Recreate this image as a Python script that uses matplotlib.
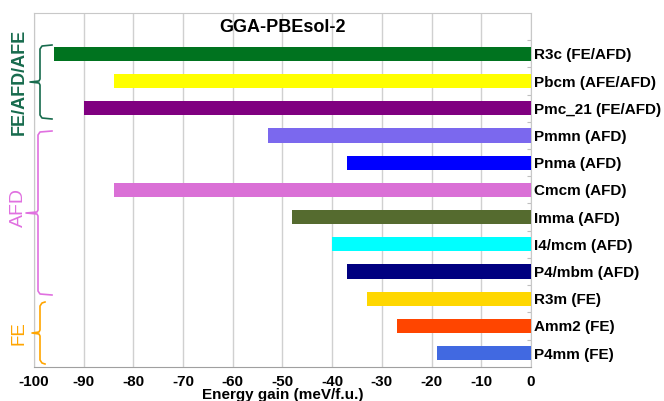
import matplotlib
matplotlib.use("Agg")
import matplotlib.pyplot as plt

plt.rcParams['font.family'] = ['Liberation Sans', 'DejaVu Sans']

structures = ["R3c (FE/AFD)", "Pbcm (AFE/AFD)", "Pmc_21 (FE/AFD)", "Pmmn (AFD)",
              "Pnma (AFD)", "Cmcm (AFD)", "Imma (AFD)", "I4/mcm (AFD)",
              "P4/mbm (AFD)", "R3m (FE)", "Amm2 (FE)", "P4mm (FE)"]
energy = [-96, -84, -90, -53, -37, -84, -48, -40, -37, -33, -27, -19]
colors = ["#00731f", "#ffff00", "#800080", "#7b68ee", "#0000ff", "#da70d6",
          "#556b2f", "#00ffff", "#000080", "#ffd700", "#ff4500", "#4169e1"]
xticks = list(range(-100, 1, 10))
title = "GGA-PBEsol-2"
xlabel = "Energy gain (meV/f.u.)"
groups = ["FE/AFD/AFE", "AFD", "FE"]
group_colors = ["#176b4d", "#e070e0", "#ffa500"]

fig = plt.figure(figsize=(6.64, 4.01), dpi=100)
ax = fig.add_axes([0.0512, 0.0855, 0.7485, 0.8821])

pos = list(range(len(structures)))
ax.barh(pos, energy, height=0.52, color=colors, zorder=3)
ax.set_xlim(-100, 0)
ax.set_ylim(11.5, -1.5)

ax.set_xticks(xticks)
ax.set_xticklabels([str(t) for t in xticks], fontsize=11, fontweight='bold')
ax.tick_params(axis='x', length=0, pad=6)
ax.grid(axis='x', color='#d0d0d0', linewidth=1, zorder=0)

ax.yaxis.tick_right()
ax.set_yticks([p + 0.5 for p in pos[:-1]] + [-0.5])
ax.set_yticklabels([])
ax.tick_params(axis='y', which='major', direction='in', length=3, color='#bfbfbf')
ax.set_yticks(pos, minor=True)
ax.set_yticklabels(structures, minor=True, fontsize=11, fontweight='bold')
ax.tick_params(axis='y', which='minor', length=0, pad=2)

for s in ax.spines.values():
    s.set_color('#c8c8c8')
ax.spines['bottom'].set_color('#a0a0a0')

ax.text(-50, -0.95, title, ha='center', va='center', fontsize=13, fontweight='bold')
ax.set_xlabel(xlabel, fontsize=11, fontweight='bold', labelpad=-1)

H = 401

def tip_brace(top, bottom, mid, xline, xend, xtip, color):
    pts_top = [(xend, top), (xline + 2, top + 1), (xline, top + 4), (xline, mid - 3)]
    pts_mid = [(xline, mid - 3), (xline - 1, mid - 1), (xtip, mid), (xline - 1, mid + 1), (xline, mid + 3)]
    pts_bot = [(xline, mid + 3), (xline, bottom - 4), (xline + 2, bottom - 1), (xend, bottom)]
    pts = pts_top + pts_mid[1:] + pts_bot[1:]
    xs = [x / 664 for x, _ in pts]
    ys = [1 - y / H for _, y in pts]
    fig.add_artist(plt.Line2D(xs, ys, color=color, lw=1.2, transform=fig.transFigure))

tip_brace(45, 119, 82, 40, 52, 30, group_colors[0])
tip_brace(131, 295, 213, 38, 52, 26, group_colors[1])
tip_brace(302, 364, 333, 40, 45, 32, group_colors[2])

fig.text(19 / 664, 1 - 82 / H, groups[0], rotation=90, ha='center', va='center',
         fontsize=13, fontweight='bold', color=group_colors[0])
fig.text(18 / 664, 1 - 207 / H, groups[1], rotation=90, ha='center', va='center',
         fontsize=14, color=group_colors[1])
fig.text(19 / 664, 1 - 333 / H, groups[2], rotation=90, ha='center', va='center',
         fontsize=13.5, color=group_colors[2])

fig.savefig("out.png", dpi=100)
